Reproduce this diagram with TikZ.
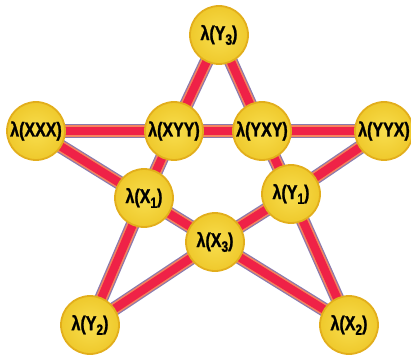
\documentclass[tikz,border=0pt]{standalone}
\usepackage{fontspec}
\newfontfamily\lamfont[FakeStretch=0.8,FakeBold=1.2,UprightFont={* Bold}]{Liberation Sans}
\usetikzlibrary{backgrounds}
\definecolor{lmyellow}{HTML}{EFC92C}
\definecolor{lmlight}{HTML}{F8DE4E}
\definecolor{lmrim}{HTML}{E2AE1C}
\definecolor{lmred}{HTML}{EF2247}
\definecolor{lmorange}{HTML}{F4845E}
\definecolor{lmpurple}{HTML}{8A7AAE}
\newcommand{\lsub}[1]{\raisebox{-0.45ex}{\fontsize{15}{15}\selectfont #1}}

\begin{document}
\begin{tikzpicture}[x=1pt,y=-1pt,
    lam/.style={circle,minimum size=58pt,inner sep=0pt,draw=lmrim,line width=1.8pt,
      inner color=lmlight,outer color=lmyellow,
      font=\lamfont\fontsize{20}{22}\selectfont},
    bond/.style={draw=lmpurple,line width=14pt,
      postaction={draw=lmorange,line width=11.5pt},
      postaction={draw=lmred,line width=8.5pt}}]
  \useasboundingbox (0,0) rectangle (411,355);
  % outer points
  \node[lam] (y3)  at (219,35)  {λ(Y\lsub{3})};
  \node[lam] (xxx) at (36,131)  {λ(XXX)};
  \node[lam] (yyx) at (384,131) {λ(YYX)};
  \node[lam] (y2)  at (90,325)  {λ(Y\lsub{2})};
  \node[lam] (x2)  at (349,325) {λ(X\lsub{2})};
  % inner points
  \node[lam] (xyy) at (174,131) {λ(XYY)};
  \node[lam] (yxy) at (262,131) {λ(YXY)};
  \node[lam] (x1)  at (144,198) {λ(X\lsub{1})};
  \node[lam] (y1)  at (291,194) {λ(Y\lsub{1})};
  \node[lam] (x3)  at (215,242) {λ(X\lsub{3})};
  \begin{scope}[on background layer]
    \draw[bond] (xxx.center) -- (xyy.center);
    \draw[bond] (xyy.center) -- (yxy.center);
    \draw[bond] (yxy.center) -- (yyx.center);
    \draw[bond] (y3.center) -- (xyy.center);
    \draw[bond] (xyy.center) -- (x1.center);
    \draw[bond] (x1.center) -- (y2.center);
    \draw[bond] (y3.center) -- (yxy.center);
    \draw[bond] (yxy.center) -- (y1.center);
    \draw[bond] (y1.center) -- (x2.center);
    \draw[bond] (xxx.center) -- (x1.center);
    \draw[bond] (x1.center) -- (x3.center);
    \draw[bond] (x3.center) -- (x2.center);
    \draw[bond] (yyx.center) -- (y1.center);
    \draw[bond] (y1.center) -- (x3.center);
    \draw[bond] (x3.center) -- (y2.center);
  \end{scope}
\end{tikzpicture}
\end{document}
